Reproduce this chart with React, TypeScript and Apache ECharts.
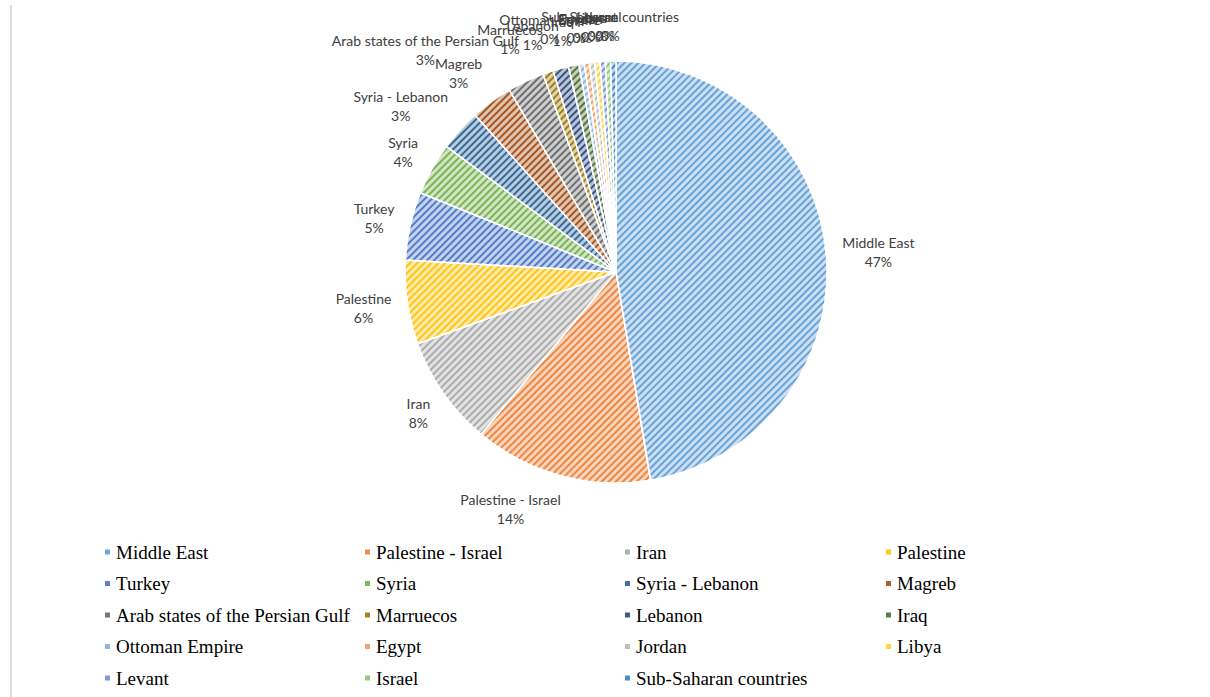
import React, { useEffect, useRef } from "react";
import * as echarts from "echarts";

// Regions and their counts, clockwise from 12 o'clock
const regions = [
  "Middle East",
  "Palestine - Israel",
  "Iran",
  "Palestine",
  "Turkey",
  "Syria",
  "Syria - Lebanon",
  "Magreb",
  "Arab states of the Persian Gulf",
  "Marruecos",
  "Lebanon",
  "Iraq",
  "Ottoman Empire",
  "Egypt",
  "Jordan",
  "Libya",
  "Levant",
  "Israel",
  "Sub-Saharan countries",
];
const counts = [118, 34, 21, 16, 13, 10, 8, 8, 7, 2, 3, 2, 1, 1, 1, 1, 1, 1, 1];

// Office-style palette
const palette = [
  "#5B9BD5", "#ED7D31", "#A5A5A5", "#FFC000", "#4472C4", "#70AD47",
  "#255E91", "#9E480E", "#636363", "#997300", "#264478", "#43682B",
  "#7CAFDD", "#F1975A", "#B7B7B7", "#FFCD33", "#698ED0", "#8CC168", "#327DC2",
];

const CX = 616;
const CY = 272;
const R = 211;

function tint(hex: string, k: number): string {
  const n = parseInt(hex.slice(1), 16);
  const r = (n >> 16) & 255, g = (n >> 8) & 255, b = n & 255;
  const m = (c: number) => Math.round(c + (255 - c) * k);
  return `rgb(${m(r)},${m(g)},${m(b)})`;
}

export default function App() {
  const ref = useRef<HTMLDivElement>(null);

  useEffect(() => {
    if (!ref.current) return;
    const chart = echarts.init(ref.current, undefined, { renderer: "svg" });
    const total = counts.reduce((a, b) => a + b, 0);

    const data = regions.map((name, i) => ({
      name,
      value: counts[i],
      itemStyle: {
        color: tint(palette[i], 0.68),
        decal: {
          symbol: "rect",
          symbolSize: 1,
          dashArrayX: [1, 0],
          dashArrayY: [1.5, 2.8],
          rotation: -Math.PI / 4,
          color: tint(palette[i], 0.08),
        },
      },
    }));

    const columns = [0, 1, 2, 3].map((c) =>
      regions
        .map((name, i) => ({
          name,
          itemStyle: { color: tint(palette[i], 0.12), decal: "none" },
        }))
        .filter((_, i) => i % 4 === c)
    );
    const colLeft = [103, 363, 623, 884];

    chart.setOption({
      animation: false,
      backgroundColor: "#ffffff",
      graphic: [
        {
          type: "rect",
          shape: { x: 10, y: 5, width: 2, height: 692 },
          style: { fill: "#dcdcdc" },
          silent: true,
        },
      ],
      legend: columns.map((col, c) => ({
        orient: "vertical",
        left: colLeft[c],
        top: 542,
        padding: 0,
        itemWidth: 7,
        itemHeight: 7,
        itemGap: 11.5,
        icon: "rect",
        selectedMode: false,
        data: col,
        textStyle: {
          fontFamily: "Liberation Serif",
          fontSize: 19,
          lineHeight: 20,
          color: "#000000",
        },
      })),
      series: [
        {
          type: "pie",
          center: [CX, CY],
          radius: R,
          startAngle: 90,
          clockwise: true,
          avoidLabelOverlap: false,
          itemStyle: { borderColor: "#ffffff", borderWidth: 1.5 },
          label: {
            show: true,
            position: "outside",
            fontFamily: "Lato",
            fontSize: 14,
            lineHeight: 19,
            color: "#404040",
            formatter: (p: any) =>
              `${p.name}\n${Math.round((p.value / total) * 100)}%`,
          },
          labelLine: { show: false },
          labelLayout: (params: any) => {
            const i = params.dataIndex;
            let before = 0;
            for (let k = 0; k < i; k++) before += counts[k];
            const mid = ((before + counts[i] / 2) / total) * Math.PI * 2;
            const s = Math.sin(mid);
            const c = Math.cos(mid);
            const d = R + 16;
            const w = params.labelRect.width;
            const h = params.labelRect.height;
            const fx = Math.max(-1, Math.min(1, 3.5 * s));
            return {
              x: CX + d * s + (fx * w) / 2,
              y: CY - d * c - (c * h) / 2,
              align: "center",
              verticalAlign: "middle",
            };
          },
          data,
        },
      ],
    });

    return () => chart.dispose();
  }, []);

  return (
    <div
      ref={ref}
      style={{ position: "fixed", left: 0, top: 0, width: 1210, height: 697 }}
    />
  );
}
